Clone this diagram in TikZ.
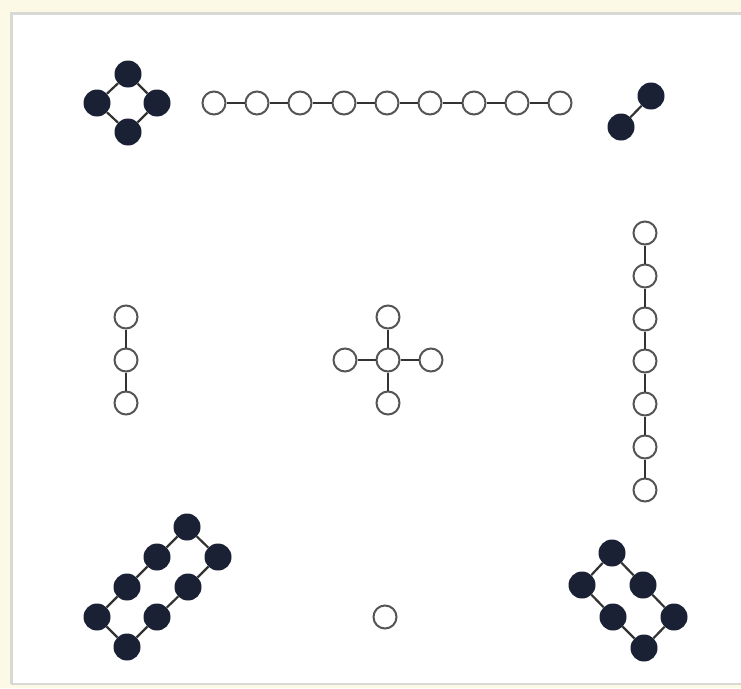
\documentclass[tikz,border=0pt]{standalone}
\definecolor{cream}{HTML}{FCFAE6}
\definecolor{framegray}{HTML}{D8D8D4}
\definecolor{navy}{HTML}{1B2134}
\definecolor{ringgray}{HTML}{555555}
\definecolor{edgegray}{HTML}{333333}
\tikzset{
  bnode/.style={circle,fill=navy,draw=none,minimum size=27pt,inner sep=0pt},
  wnode/.style={circle,fill=white,draw=ringgray,line width=2pt,minimum size=23pt,inner sep=0pt},
  link/.style={draw=edgegray,line width=2.2pt},
}
\begin{document}
\begin{tikzpicture}[x=1pt,y=-1pt]
\useasboundingbox (0,0) rectangle (741,688);
\fill[cream] (0,0) rectangle (741,688);
\fill[white] (10,12) rectangle (741,684);
\draw[framegray,line width=3pt] (11,684) -- (11,13.5) -- (741,13.5);
\draw[framegray,line width=1.5pt] (11,684) -- (741,684);

% top-left diamond
\node[bnode] (d1) at (128,74) {};
\node[bnode] (d2) at (157,103) {};
\node[bnode] (d3) at (128,132) {};
\node[bnode] (d4) at (97,103) {};
\draw[link] (d1) -- (d2) -- (d3) -- (d4) -- (d1);

% top chain
\foreach \i [count=\k] in {214,257,300,344,387,430,474,517,560} {
  \node[wnode] (t\k) at (\i,103) {};
}
\foreach \a/\b in {1/2,2/3,3/4,4/5,5/6,6/7,7/8,8/9} {
  \draw[link] (t\a) -- (t\b);
}

% top-right pair
\node[bnode] (p1) at (651,96) {};
\node[bnode] (p2) at (621,127) {};
\draw[link] (p1) -- (p2);

% left vertical chain
\node[wnode] (l1) at (126,317) {};
\node[wnode] (l2) at (126,360) {};
\node[wnode] (l3) at (126,403) {};
\draw[link] (l1) -- (l2) -- (l3);

% center cross
\node[wnode] (c0) at (388,360) {};
\node[wnode] (cu) at (388,317) {};
\node[wnode] (cd) at (388,403) {};
\node[wnode] (cl) at (345,360) {};
\node[wnode] (cr) at (431,360) {};
\draw[link] (c0) -- (cu);
\draw[link] (c0) -- (cd);
\draw[link] (c0) -- (cl);
\draw[link] (c0) -- (cr);

% right vertical chain
\foreach \j [count=\k] in {233,276,319,361,404,447,490} {
  \node[wnode] (r\k) at (645,\j) {};
}
\foreach \a/\b in {1/2,2/3,3/4,4/5,5/6,6/7} {
  \draw[link] (r\a) -- (r\b);
}

% bottom center single
\node[wnode] (s1) at (385,617) {};

% bottom-left ring of 8
\node[bnode] (a1) at (187,527) {};
\node[bnode] (a2) at (157,557) {};
\node[bnode] (a3) at (127,587) {};
\node[bnode] (a4) at (97,617) {};
\node[bnode] (a5) at (127,647) {};
\node[bnode] (a6) at (157,617) {};
\node[bnode] (a7) at (188,587) {};
\node[bnode] (a8) at (218,557) {};
\draw[link] (a1) -- (a2) -- (a3) -- (a4) -- (a5) -- (a6) -- (a7) -- (a8) -- (a1);

% bottom-right ring of 6
\node[bnode] (b1) at (612,553) {};
\node[bnode] (b2) at (582,585) {};
\node[bnode] (b3) at (613,617) {};
\node[bnode] (b4) at (644,648) {};
\node[bnode] (b5) at (674,617) {};
\node[bnode] (b6) at (643,585) {};
\draw[link] (b1) -- (b2) -- (b3) -- (b4) -- (b5) -- (b6) -- (b1);
\end{tikzpicture}
\end{document}
